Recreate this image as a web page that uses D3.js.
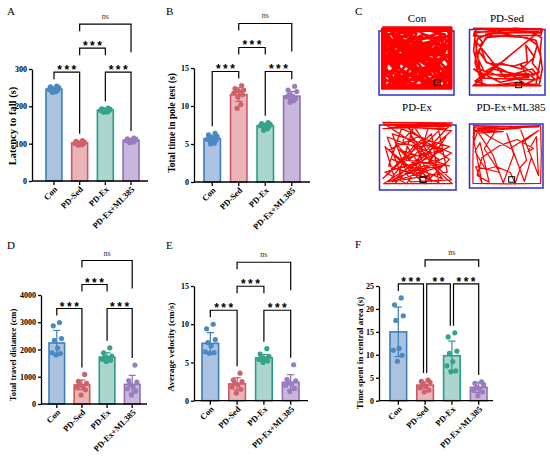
<!DOCTYPE html>
<html>
<head>
<meta charset="utf-8">
<script src="https://cdn.jsdelivr.net/npm/d3@7"></script>
<style>
  body { margin: 0; background: #fff; }
  svg { display: block; }
  text { font-family: "Liberation Serif", "Times New Roman", serif; }
</style>
</head>
<body>
<script>
// groups and colours
const groups = ["Con", "PD-Sed", "PD-Ex", "PD-Ex+ML385"];
const fills = ["#abc3e0", "#e9b5b8", "#aad6cd", "#c9b7db"];
const strokes = ["#3d7ebb", "#cc5a63", "#2e9b85", "#8e70b4"];
const dots = ["#4b89c3", "#d0616b", "#35a38c", "#9a7cbf"];

// A: latency to fall (s)
const latencyMean = [246, 102, 190, 109];
const latencySD = [5, 4, 3, 4];
const latencyPts = [
  [254, 252, 250, 248, 246, 245, 243, 241, 239, 238],
  [108, 106, 104, 103, 102, 101, 100, 99, 97, 96],
  [195, 193, 192, 191, 190, 189, 188, 187, 185, 184],
  [115, 113, 112, 110, 109, 108, 107, 106, 104, 103]
];
// B: total time in pole test (s)
const poleMean = [5.7, 11.5, 7.4, 11.3];
const poleSD = [0.45, 0.9, 0.3, 0.6];
const polePts = [
  [6.4, 6.2, 6.0, 5.9, 5.8, 5.6, 5.5, 5.3, 5.1, 5.0],
  [12.7, 12.3, 12.1, 12.0, 11.9, 11.7, 11.5, 11.2, 10.2, 9.7],
  [7.8, 7.7, 7.6, 7.5, 7.5, 7.4, 7.3, 7.2, 7.0, 6.8],
  [12.6, 12.1, 11.9, 11.5, 11.3, 11.2, 11.0, 10.9, 10.7, 10.5]
];
// D: total travel distance (cm)
const distMean = [2240, 700, 1720, 720];
const distSD = [460, 180, 160, 330];
const distPts = [
  [2990, 2870, 2400, 2340, 2050, 1880, 1850, 1800],
  [1085, 830, 760, 720, 650, 600, 520, 330],
  [2060, 1880, 1760, 1720, 1680, 1640, 1610, 1560],
  [1430, 860, 800, 720, 640, 560, 480, 330]
];
// E: average velocity (cm/s)
const veloMean = [7.5, 2.2, 5.6, 2.4];
const veloSD = [1.4, 0.8, 0.45, 1.0];
const veloPts = [
  [10.0, 9.4, 8.0, 7.6, 7.2, 6.4, 6.3, 6.2],
  [3.6, 2.7, 2.5, 2.3, 2.1, 1.8, 1.5, 1.0],
  [6.8, 6.1, 5.8, 5.6, 5.5, 5.4, 5.2, 5.0],
  [4.7, 2.8, 2.6, 2.4, 2.2, 2.0, 1.6, 1.2]
];
// F: time spent in central area (s)
const centralMean = [15.0, 3.4, 9.8, 2.9];
const centralSD = [5.4, 0.7, 3.2, 1.1];
const centralPts = [
  [22.4, 20.9, 18.5, 17.5, 11.4, 11.0, 9.9, 8.6],
  [4.5, 4.2, 4.0, 3.6, 3.2, 2.8, 2.3, 1.9],
  [14.8, 13.9, 10.8, 10.3, 8.5, 7.6, 6.5, 6.3],
  [4.1, 3.8, 3.5, 2.9, 2.6, 2.2, 1.9, 1.1]
];

// comparisons: [from, to, level, label]
const stdBrackets = [[0, 1, 0, "***"], [2, 3, 0, "***"], [1, 2, 1, "***"], [1, 3, 2, "ns"]];
const centralBrackets = [[0, 1, 0, "***"], [1, 2, 0, "**"], [2, 3, 0, "***"], [1, 3, 1, "ns"]];

// C: open field tracks (0-100 in each arena)
const trackCon = [[1,1],[99,1],[99,99],[1,99],[1,3],[97,3],[97,97],[3,97],[3,5],[95,6],[96,95],[5,95],[6,8],
  [20,30],[8,50],[30,15],[50,8],[40,40],[15,70],[30,92],[45,70],[25,55],[10,20],[35,25],[60,12],[85,20],
  [70,40],[92,35],[80,60],[95,80],[70,88],[55,65],[35,80],[12,88],[22,40],[50,30],[75,25],[90,50],[65,75],
  [45,92],[20,80],[8,35],[28,8],[55,20],[80,10],[93,22],[75,50],[85,85],[58,90],[38,60],[18,45],[5,65],
  [25,95],[48,82],[72,68],[88,68],[92,92],[78,78],[62,58],[42,18],[15,12],[32,45],[10,80],[40,95],[60,80],
  [82,40],[96,60],[70,95],[30,70],[12,60],[35,88],[55,95],[80,92],[90,75],[65,85],[40,85],[18,92],[6,75],
  [25,65],[8,12],[65,5],[90,12],[85,30],[68,18],[50,4],[22,20],[10,40],[4,85],[50,97],[88,96],[97,50],
  [15,25],[45,55],[70,30],[30,40],[85,55],[60,70],[20,15],[75,60],[50,85],[10,55],[90,40],[35,55],[65,40],
  [25,85],[80,20],[15,40],[95,70],[40,10],[70,75],[8,95],[60,30],[30,60],[88,85],[45,25],[20,70],[75,90],
  [50,70],[5,25],[95,15],[35,35],[65,95],[12,5],[82,65],[28,28],[92,45],[42,78],[58,15],[18,58],[72,52],
  [2,50],[98,30],[3,20],[98,85],[30,98],[2,2]];
const trackSed = [[2,2],[98,3],[96,10],[4,8],[3,15],[97,14],[99,5],[60,2],[20,12],[80,8],[98,18],[96,40],
  [99,70],[95,95],[50,97],[5,96],[10,85],[90,88],[80,78],[15,80],[3,70],[40,92],[70,85],[95,75],[85,60],
  [92,30],[78,18],[45,15],[20,18],[10,40],[22,60],[60,65],[78,58],[76,30],[88,50],[70,70],[40,60],[18,75],
  [8,50],[15,25],[5,10],[35,5],[22,18],[12,30],[20,58],[50,75],[75,95],[95,85],[85,70],[60,78],[30,70],
  [5,90],[25,98],[60,93],[90,96],[97,50],[90,22],[65,16],[30,8],[8,20],[5,60],[15,95],[5,22],[48,86],
  [80,84],[68,62],[88,80],[40,82],[10,70],[3,40],[6,3],[94,8],[2,98],[98,98]];
const trackEx = [[1,2],[99,3],[3,6],[97,8],[2,12],[50,10],[98,15],[20,96],[5,40],[60,98],[95,60],[30,5],
  [10,70],[80,96],[70,20],[2,90],[45,40],[98,92],[40,95],[15,20],[85,45],[25,60],[65,65],[90,25],[55,85],
  [10,45],[50,25],[95,40],[35,75],[3,98],[99,98],[75,75],[60,40],[20,35],[40,60],[80,15],[92,80],[30,92],
  [8,25],[70,50],[45,8],[25,80],[85,70],[15,95],[55,55],[97,5],[5,5],[95,6],[10,10],[90,12],[50,4],
  [30,30],[60,80],[15,60],[85,90],[40,20],[70,95],[25,45],[95,70],[50,65],[5,80],[35,98],[75,35],[20,8],
  [65,12],[45,85],[98,50],[55,30],[10,95],[80,60],[2,3]];
const trackMl = [[2,2],[60,3],[98,2],[99,50],[98,98],[50,99],[2,98],[2,60],[3,4],[40,6],[3,10],[45,12],
  [10,14],[30,50],[45,97],[60,50],[50,15],[75,95],[85,55],[70,10],[95,85],[92,20],[80,45],[88,40],[65,25],
  [40,35],[15,55],[8,85],[25,96],[12,30],[5,45],[20,75],[35,70],[55,80],[62,98],[70,70],[78,60],[72,30],
  [95,10],[55,40],[25,20],[10,8],[3,30],[5,3],[95,4],[8,7],[70,6],[4,12],[35,9],[18,40],[40,80],[6,70],
  [15,98],[2,20]];
const arenaNames = ["Con", "PD-Sed", "PD-Ex", "PD-Ex+ML385"];
const arenaTracks = [trackCon, trackSed, trackEx, trackMl];
const arenaMarks = [[79, 90], [66, 97], [58, 92], [57, 92]];

const svg = d3.select("body").append("svg").attr("width", 550).attr("height", 458);
const jitter = [0.35, -0.45, 0.6, -0.3, 0.1, -0.6, 0.45, -0.1, 0.25, -0.2];

function barPanel(p, means, sds, pts, brackets) {
  const y = d3.scaleLinear().domain([0, p.max]).range([p.yBot, p.yTop]);
  const x = d3.scaleBand().domain(groups).range([p.bandL, p.bandR]).paddingInner(0.38);
  const bw = x.bandwidth();
  const cx = (i) => x(groups[i]) + bw / 2;
  const g = svg.append("g");

  g.selectAll(null).data(groups).join("rect")
    .attr("x", (d) => x(d))
    .attr("width", bw)
    .attr("y", (d, i) => y(means[i]))
    .attr("height", (d, i) => p.yBot - y(means[i]))
    .attr("fill", (d, i) => fills[i])
    .attr("stroke", (d, i) => strokes[i])
    .attr("stroke-width", 1.6);

  // error bars (mean +/- SD)
  const eb = g.selectAll(null).data(groups).join("g").attr("stroke", (d, i) => strokes[i]).attr("stroke-width", 1.2);
  eb.append("line").attr("x1", (d, i) => cx(i)).attr("x2", (d, i) => cx(i))
    .attr("y1", (d, i) => y(means[i] - sds[i])).attr("y2", (d, i) => y(means[i] + sds[i]));
  [1, -1].forEach((s) => {
    eb.append("line").attr("x1", (d, i) => cx(i) - bw * 0.22).attr("x2", (d, i) => cx(i) + bw * 0.22)
      .attr("y1", (d, i) => y(means[i] + s * sds[i])).attr("y2", (d, i) => y(means[i] + s * sds[i]));
  });

  const flat = pts.flatMap((arr, i) => arr.map((v, k) => ({ i, k, v })));
  g.selectAll(null).data(flat).join("circle")
    .attr("cx", (d) => cx(d.i) + jitter[d.k % jitter.length] * bw / 2)
    .attr("cy", (d) => y(d.v))
    .attr("r", 2.6)
    .attr("fill", (d) => dots[d.i]);

  // axes
  const yAxis = d3.axisLeft(y).tickValues(p.ticks).tickFormat(d3.format("d"))
    .tickSize(3).tickSizeOuter(0).tickPadding(2);
  const ya = g.append("g").attr("transform", `translate(${p.x0},0)`).call(yAxis);
  ya.attr("font-family", null).attr("font-size", null);
  ya.selectAll("text").attr("font-size", 8).attr("font-weight", "bold").attr("fill", "#000");
  ya.selectAll("path, line").attr("stroke", "#000").attr("stroke-width", 1.3);

  const xAxis = d3.axisBottom(x).tickSize(4).tickSizeOuter(0);
  const xa = g.append("g").attr("transform", `translate(0,${p.yBot})`).call(xAxis);
  xa.attr("font-family", null).attr("font-size", null);
  xa.select(".domain").attr("d", `M${p.x0},0H${p.x1}`);
  xa.selectAll("path, line").attr("stroke", "#000").attr("stroke-width", 1.3);
  xa.selectAll("text")
    .attr("y", 0).attr("dy", 0)
    .attr("transform", "translate(4,9) rotate(-45)")
    .attr("text-anchor", "end")
    .attr("font-size", 8.5).attr("font-weight", "bold").attr("fill", "#000");

  g.append("text")
    .attr("transform", `translate(${p.titleX},${p.titleY}) rotate(-90)`)
    .attr("text-anchor", "middle")
    .attr("font-size", p.titleSize).attr("font-weight", "bold")
    .text(p.title);

  g.append("text").attr("x", p.lx).attr("y", p.ly).attr("font-size", 11).text(p.letter);

  // significance brackets
  const base = d3.min(flat, (d) => y(d.v)) - 14;
  const levelY = (L) => base - L * 24;
  brackets.forEach((br) => {
    const [a, b, L, label] = br;
    const yl = levelY(L);
    let xa0 = cx(a), xb0 = cx(b);
    if (brackets.some((o) => o !== br && o[2] === L && o[1] === a)) xa0 += 1.6;
    if (brackets.some((o) => o !== br && o[2] === L && o[0] === b)) xb0 -= 1.6;
    const legEnd = (gi) => {
      if (L === 0) return y(d3.max(pts[gi])) - 7;
      if (brackets.some((o) => o[2] === L - 1 && (o[0] === gi || o[1] === gi))) return yl + 7;
      return levelY(L - 1) + 4;
    };
    g.append("path")
      .attr("d", `M${xa0},${legEnd(a)}V${yl}H${xb0}V${legEnd(b)}`)
      .attr("fill", "none").attr("stroke", "#000").attr("stroke-width", 1.2);
    const t = g.append("text").attr("x", (xa0 + xb0) / 2).attr("text-anchor", "middle").text(label);
    if (label === "ns") {
      t.attr("y", yl - 5).attr("font-size", 8).attr("fill", "#333");
    } else {
      t.attr("y", yl + 2).attr("font-size", 12).attr("font-weight", "bold")
        .attr("letter-spacing", 2.5).attr("dx", 1.2)
        .style("font-family", "'Liberation Sans', Arial, sans-serif");
    }
  });
}

barPanel({ x0: 32, x1: 148, yTop: 69, yBot: 181, bandL: 46, bandR: 139, max: 300, ticks: [0, 100, 200, 300],
  title: "Latency to fall (s)", titleX: 16, titleY: 126, titleSize: 10.5, letter: "A", lx: 7, ly: 15 },
  latencyMean, latencySD, latencyPts, stdBrackets);
barPanel({ x0: 194, x1: 310, yTop: 68, yBot: 182, bandL: 204, bandR: 300, max: 15, ticks: [0, 5, 10, 15],
  title: "Total time in pole test (s)", titleX: 174.5, titleY: 123, titleSize: 9.5, letter: "B", lx: 166, ly: 15 },
  poleMean, poleSD, polePts, stdBrackets);
barPanel({ x0: 41, x1: 147, yTop: 295, yBot: 404, bandL: 49, bandR: 140, max: 4000, ticks: [0, 1000, 2000, 3000, 4000],
  title: "Total travel distance (cm)", titleX: 16, titleY: 355, titleSize: 8.5, letter: "D", lx: 7, ly: 249 },
  distMean, distSD, distPts, stdBrackets);
barPanel({ x0: 194, x1: 308, yTop: 286, yBot: 400.7, bandL: 202, bandR: 299, max: 15, ticks: [0, 5, 10, 15],
  title: "Average velocity (cm/s)", titleX: 174, titleY: 347, titleSize: 9, letter: "E", lx: 166, ly: 249 },
  veloMean, veloSD, veloPts, stdBrackets);
barPanel({ x0: 379, x1: 493, yTop: 286, yBot: 400.7, bandL: 390, bandR: 487, max: 25, ticks: [0, 5, 10, 15, 20, 25],
  title: "Time spent in central area (s)", titleX: 362.5, titleY: 353, titleSize: 9, letter: "F", lx: 355, ly: 248 },
  centralMean, centralSD, centralPts, centralBrackets);

// panel C
svg.append("text").attr("x", 355).attr("y", 15).attr("font-size", 11).text("C");
const arenas = [
  { box: [379, 31, 454, 95], area: [381.5, 27, 452, 89], lab: [417, 22], w: 2.6 },
  { box: [469.5, 29.5, 545, 95], area: [471.5, 27, 543, 87], lab: [507, 22], w: 1.6 },
  { box: [379.5, 125, 456, 190], area: [381.5, 121, 453, 185], lab: [417, 111], w: 1.3 },
  { box: [469.5, 124, 543, 188], area: [471.5, 124.5, 542, 184.5], lab: [511, 111], w: 1.2 }
];
arenas.forEach((a, i) => {
  const g = svg.append("g");
  const sx = d3.scaleLinear().domain([0, 100]).range([a.area[0], a.area[2]]);
  const sy = d3.scaleLinear().domain([0, 100]).range([a.area[1], a.area[3]]);
  g.append("rect").attr("x", a.box[0]).attr("y", a.box[1])
    .attr("width", a.box[2] - a.box[0]).attr("height", a.box[3] - a.box[1])
    .attr("fill", "none").attr("stroke", "#2f2fc8").attr("stroke-width", 1.5);
  g.append("path").datum(arenaTracks[i])
    .attr("d", d3.line().x((d) => sx(d[0])).y((d) => sy(d[1])))
    .attr("fill", "none").attr("stroke", "#ff0000").attr("stroke-width", a.w)
    .attr("stroke-linejoin", "round");
  g.append("rect").attr("x", sx(arenaMarks[i][0]) - 3).attr("y", sy(arenaMarks[i][1]) - 3)
    .attr("width", 6).attr("height", 5.5)
    .attr("fill", "none").attr("stroke", "#000").attr("stroke-width", 1);
  g.append("text").attr("x", a.lab[0]).attr("y", a.lab[1]).attr("text-anchor", "middle")
    .attr("font-size", 11).text(arenaNames[i]);
});
</script>
</body>
</html>
